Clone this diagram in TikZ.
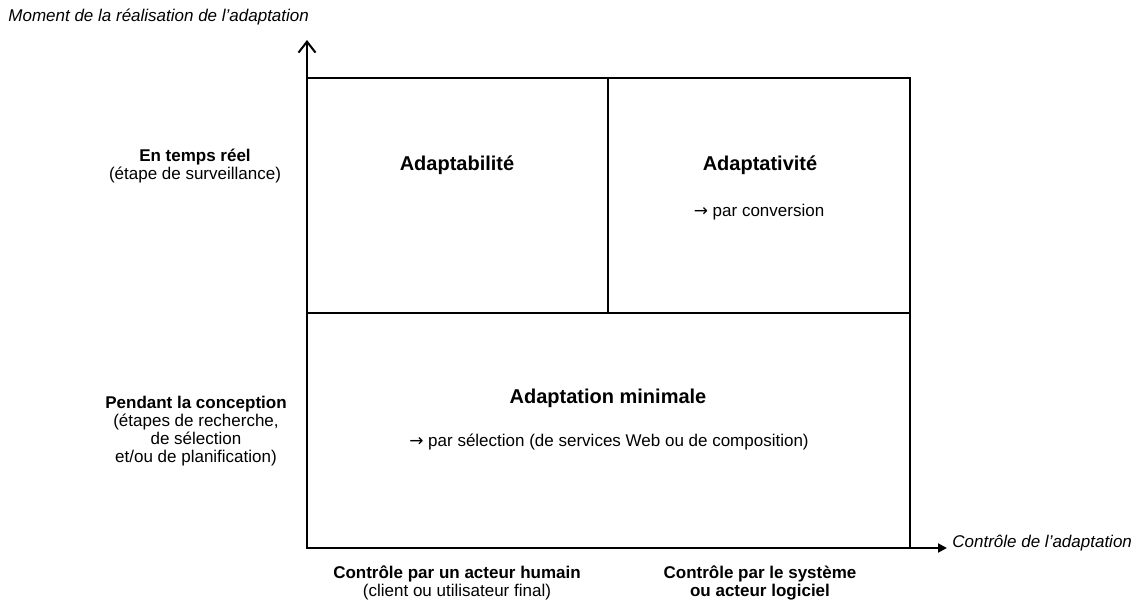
\documentclass[tikz,border=0pt]{standalone}
\usepackage{fontspec}
\setmainfont{Liberation Sans}
\newfontfamily\arrowfont{DejaVu Sans}
\usepackage{tikz}
\usetikzlibrary{arrows.meta, positioning}
\tikzset{
  cell/.style = {rectangle, draw, line width=0.6pt, inner sep=0pt, outer sep=0pt},
  title/.style = {font=\fontsize{10}{12}\selectfont\bfseries},
  lbl/.style = {align=center},
  axislabel/.style = {anchor=west, font=\fontsize{8.5}{9}\selectfont\itshape},
  axis/.style = {line width=1pt},
}

\begin{document}
\begin{tikzpicture}[x=0.5pt, y=-0.5pt, node distance=0pt, every node/.style={font=\fontsize{8.5}{9}\selectfont, inner sep=0pt}]
    \useasboundingbox (0,0) rectangle (1137,605);

    % Cells
    \node (adaptab) [cell, minimum width=150.5pt, minimum height=117.5pt, anchor=north west] at (307,78) {};
    \node (adaptat) [cell, minimum width=151pt, minimum height=117.5pt, right=of adaptab] {};
    \node (minimal) [cell, minimum width=301.5pt, minimum height=117.5pt, below=of adaptab.south west, anchor=north west] {};

    % Cell texts
    \node (tadaptab) [title] at (457,165) {Adaptabilité};
    \node (tadaptat) [title] at (760,165) {Adaptativité};
    \node (conv) at (759,212) {{\arrowfont →} par conversion};
    \node (tminimal) [title] at (608,398) {Adaptation minimale};
    \node (sel) at (609,442) {{\arrowfont →} par sélection (de services Web ou de composition)};

    % Row and column labels
    \node (rowtop) [lbl] at (195,166) {\textbf{En temps réel}\\(étape de surveillance)};
    \node (rowbot) [lbl] at (196,431) {\textbf{Pendant la conception}\\(étapes de recherche,\\de sélection\\et/ou de planification)};
    \node (colleft) [lbl] at (457,583) {\textbf{Contrôle par un acteur humain}\\(client ou utilisateur final)};
    \node (colright) [lbl] at (760,583) {\textbf{Contrôle par le système}\\\textbf{ou acteur logiciel}};

    % Axes
    \coordinate (ytip) at (307,40);
    \coordinate (xtip) at (947,548);
    \draw [axis, -{Straight Barb[length=5.5pt, width=8.5pt]}] (minimal.south west) -- (ytip);
    \draw [axis, -{Triangle[length=4.5pt, width=4.5pt]}] (minimal.south west) -- (xtip);

    \node (ylabel) [axislabel] at (8,17) {Moment de la réalisation de l’adaptation};
    \node (xlabel) [axislabel] at (952,543) {Contrôle de l’adaptation};

\end{tikzpicture}
\end{document}
